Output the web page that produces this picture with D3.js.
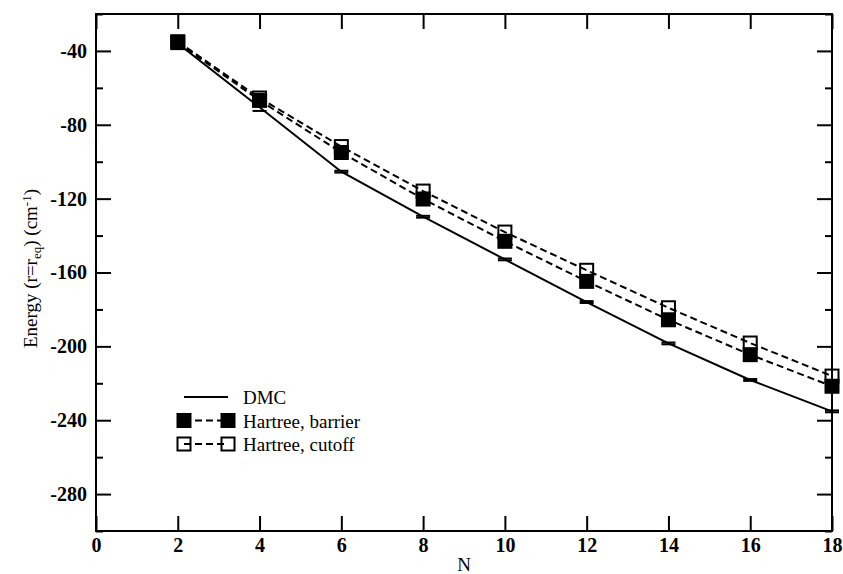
<!DOCTYPE html>
<html>
<head>
<meta charset="utf-8">
<script src="https://cdn.jsdelivr.net/npm/d3@7.9.0/dist/d3.min.js"></script>
<style>
  body { margin: 0; background: #fff; }
  svg { display: block; font-family: "Liberation Serif", "Times New Roman", serif; }
</style>
</head>
<body>
<svg width="843" height="574"></svg>
<script>
// data
const nValues = [2, 4, 6, 8, 10, 12, 14, 16, 18];
const dmc = [-36, -70.5, -105.4, -129.8, -152.9, -176, -198.4, -218.2, -235.2];
const dmcErr = [0.5, 2, 0.5, 0.5, 0.5, 0.5, 0.5, 0.5, 0.5];
const hartreeBarrier = [-35.5, -66.8, -95, -120.2, -143.1, -164.8, -185.6, -204.5, -221.6];
const hartreeCutoff = [-35, -65.5, -91.8, -115.9, -138.1, -158.8, -179.1, -198.2, -216.1];
const xTicks = [0, 2, 4, 6, 8, 10, 12, 14, 16, 18];
const yTicks = [-40, -80, -120, -160, -200, -240, -280];
const yMinorTicks = [-20, -60, -100, -140, -180, -220, -260, -300];

const svg = d3.select('svg');
const margin = { left: 96, right: 11, top: 14, bottom: 43 };
const width = 843 - margin.left - margin.right;
const height = 574 - margin.top - margin.bottom;

const x = d3.scaleLinear().domain([0, 18]).range([0, width]);
const y = d3.scaleLinear().domain([-300, -20]).range([height, 0]);

const g = svg.append('g').attr('transform', `translate(${margin.left},${margin.top})`);

// plain hyphen minus, like the original
const fmt = (d) => String(d);

// axes, ticks pointing inward
function styleAxis(sel) {
  sel.select('.domain').remove();
  sel.selectAll('.tick line').attr('stroke', '#000').attr('stroke-width', 2);
  sel.selectAll('.tick text')
    .attr('fill', '#000')
    .style('font-size', '20px')
    .style('font-weight', 'bold')
    .style('font-family', '"Liberation Serif", serif');
}

g.append('g')
  .attr('transform', `translate(0,${height})`)
  .call(d3.axisBottom(x).tickValues(xTicks).tickSize(-15).tickPadding(7).tickFormat(fmt))
  .call(styleAxis);

g.append('g')
  .call(d3.axisTop(x).tickValues(xTicks).tickSize(-15).tickFormat(''))
  .call(styleAxis);

g.append('g')
  .call(d3.axisLeft(y).tickValues(yTicks).tickSize(-15).tickPadding(9).tickFormat(fmt))
  .call(styleAxis);

g.append('g')
  .call(d3.axisLeft(y).tickValues(yMinorTicks).tickSize(-7).tickFormat(''))
  .call(styleAxis);

g.append('g')
  .attr('transform', `translate(${width},0)`)
  .call(d3.axisRight(y).tickValues(yTicks).tickSize(-15).tickFormat(''))
  .call(styleAxis);

g.append('g')
  .attr('transform', `translate(${width},0)`)
  .call(d3.axisRight(y).tickValues(yMinorTicks).tickSize(-7).tickFormat(''))
  .call(styleAxis);

// frame
g.append('rect')
  .attr('width', width).attr('height', height)
  .attr('fill', 'none').attr('stroke', '#000').attr('stroke-width', 2);

const line = d3.line().x((d) => x(d[0])).y((d) => y(d[1]));

const lineStyles = [
  { values: dmc, dash: null },
  { values: hartreeBarrier, dash: '7,4' },
  { values: hartreeCutoff, dash: '7,4' },
];

lineStyles.forEach((s) => {
  g.append('path')
    .datum(nValues.map((n, i) => [n, s.values[i]]))
    .attr('d', line)
    .attr('fill', 'none')
    .attr('stroke', '#000')
    .attr('stroke-width', 2)
    .attr('stroke-dasharray', s.dash);
});

// DMC error bars (tiny, only caps are visible)
const capW = 14;
nValues.forEach((n, i) => {
  [dmc[i] - dmcErr[i], dmc[i] + dmcErr[i]].forEach((v) => {
    g.append('line')
      .attr('x1', x(n) - capW / 2).attr('x2', x(n) + capW / 2)
      .attr('y1', y(v)).attr('y2', y(v))
      .attr('stroke', '#000').attr('stroke-width', 2);
  });
});

// squares
const sq = 13;
g.selectAll('.cutoff')
  .data(nValues.map((n, i) => [n, hartreeCutoff[i]]))
  .join('rect')
  .attr('x', (d) => x(d[0]) - sq / 2)
  .attr('y', (d) => y(d[1]) - sq / 2)
  .attr('width', sq).attr('height', sq)
  .attr('fill', 'none').attr('stroke', '#000').attr('stroke-width', 2);

g.selectAll('.barrier')
  .data(nValues.map((n, i) => [n, hartreeBarrier[i]]))
  .join('rect')
  .attr('x', (d) => x(d[0]) - sq / 2 - 1)
  .attr('y', (d) => y(d[1]) - sq / 2 - 1)
  .attr('width', sq + 2).attr('height', sq + 2)
  .attr('fill', '#000');

// axis labels
svg.append('text')
  .attr('x', margin.left + width / 2).attr('y', 571)
  .attr('text-anchor', 'middle')
  .attr('fill', '#000')
  .style('font-size', '19px')
  .text('N');

const yl = svg.append('text')
  .attr('transform', `translate(37,${margin.top + height / 2 - 4}) rotate(-90)`)
  .attr('text-anchor', 'middle')
  .attr('fill', '#000')
  .style('font-size', '19px');
yl.append('tspan').text('Energy (r=r');
yl.append('tspan').attr('baseline-shift', '-30%').style('font-size', '13px').text('eq');
yl.append('tspan').text(') (cm');
yl.append('tspan').attr('baseline-shift', '45%').style('font-size', '13px').text('-1');
yl.append('tspan').text(')');

// legend
const legendItems = [
  { label: 'DMC', dash: null, marker: null },
  { label: 'Hartree, barrier', dash: '7,4', marker: 'filled' },
  { label: 'Hartree, cutoff', dash: '7,4', marker: 'open' },
];
const lx1 = 184, lx2 = 228, ly0 = 397, lstep = 23.5;
legendItems.forEach((it, i) => {
  const ly = ly0 + i * lstep;
  svg.append('line')
    .attr('x1', lx1).attr('x2', lx2).attr('y1', ly).attr('y2', ly)
    .attr('stroke', '#000').attr('stroke-width', 2)
    .attr('stroke-dasharray', it.dash);
  if (it.marker) {
    [lx1, lx2].forEach((cx) => {
      if (it.marker === 'filled') {
        svg.append('rect').attr('x', cx - sq / 2 - 1).attr('y', ly - sq / 2 - 1)
          .attr('width', sq + 2).attr('height', sq + 2).attr('fill', '#000');
      } else {
        svg.append('rect').attr('x', cx - sq / 2).attr('y', ly - sq / 2)
          .attr('width', sq).attr('height', sq)
          .attr('fill', 'none').attr('stroke', '#000').attr('stroke-width', 2);
      }
    });
  }
  svg.append('text')
    .attr('x', 243).attr('y', ly + 7)
    .attr('fill', '#000')
    .style('font-size', '19px')
    .text(it.label);
});
</script>
</body>
</html>
